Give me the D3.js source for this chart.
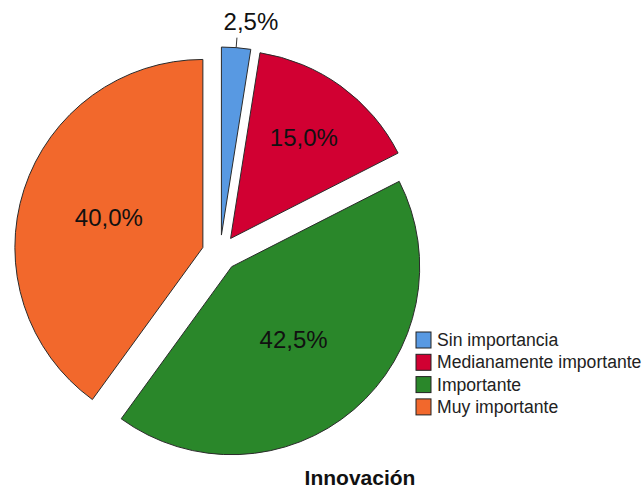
<!DOCTYPE html>
<html>
<head>
<meta charset="utf-8">
<script src="https://cdn.jsdelivr.net/npm/d3@7"></script>
<style>
  body { margin: 0; background: #fff; }
  text { font-family: "Liberation Sans", Arial, sans-serif; }
</style>
</head>
<body>
<script>
// data
const categories = ["Sin importancia", "Medianamente importante", "Importante", "Muy importante"]
const percents = [2.5, 15.0, 42.5, 40.0]
const colors = ["#5899e2", "#d10032", "#2a872a", "#f2682c"]
const title = "Innovación"

const W = 644, H = 493
const cx = 220, cy = 253, R = 188, explode = 18

let svg = d3.select("body")
    .append("svg")
    .attr("width", W)
    .attr("height", H)

let pie = d3.pie().sort(null).value(d => d)
let arcs = pie(percents)
let arc = d3.arc().innerRadius(0).outerRadius(R)

function dir(a){ return [Math.sin(a), -Math.cos(a)] }
function fmt(v){ return v.toFixed(1).replace(".", ",") + "%" }

let g = svg.append("g").attr("transform", "translate(" + cx + "," + cy + ")")

let slices = g.selectAll("g.slice")
    .data(arcs)
    .enter()
    .append("g")
    .attr("class", "slice")
    .attr("transform", d => {
        let m = dir((d.startAngle + d.endAngle) / 2)
        return "translate(" + m[0]*explode + "," + m[1]*explode + ")"
    })

slices.append("path")
    .attr("d", arc)
    .style("fill", (d, i) => colors[i])
    .style("stroke", "#2b2b2b")
    .style("stroke-width", 1)

// labels at the area centroid of each slice, small ones outside
slices.each(function(d, i){
    let s = d3.select(this)
    let mid = (d.startAngle + d.endAngle) / 2
    let half = (d.endAngle - d.startAngle) / 2
    let m = dir(mid)
    if (percents[i] < 5) {
        let p0 = [m[0]*R, m[1]*R]
        let p1 = [m[0]*(R+10), m[1]*(R+10)]
        s.append("line")
            .attr("x1", p0[0]).attr("y1", p0[1])
            .attr("x2", p1[0]).attr("y2", p1[1])
            .style("stroke", "#333")
            .style("stroke-width", 1)
        s.append("text")
            .attr("x", p1[0] + 14)
            .attr("y", p1[1] - 8)
            .attr("text-anchor", "middle")
            .style("font-size", "24px")
            .style("fill", "#111")
            .text(fmt(percents[i]))
    } else {
        let rc = 2 * R * Math.sin(half) / (3 * half) + 4
        s.append("text")
            .attr("x", m[0]*rc)
            .attr("y", m[1]*rc)
            .attr("dy", "0.36em")
            .attr("text-anchor", "middle")
            .style("font-size", "24px")
            .style("fill", "#111")
            .text(fmt(percents[i]))
    }
})

// legend
let legend = svg.append("g").attr("transform", "translate(416,332)")
categories.forEach((c, i) => {
    legend.append("rect")
        .attr("x", 0)
        .attr("y", i*22.3)
        .attr("width", 15)
        .attr("height", 16)
        .style("fill", colors[i])
        .style("stroke", "#222")
        .style("stroke-width", 1)
    legend.append("text")
        .attr("x", 21)
        .attr("y", i*22.3 + 14)
        .style("font-size", "17.6px")
        .style("fill", "#222")
        .text(c)
})

svg.append("text")
    .attr("x", 360)
    .attr("y", 485)
    .attr("text-anchor", "middle")
    .style("font-size", "21px")
    .style("font-weight", "bold")
    .style("fill", "#111")
    .text(title)
</script>
</body>
</html>
